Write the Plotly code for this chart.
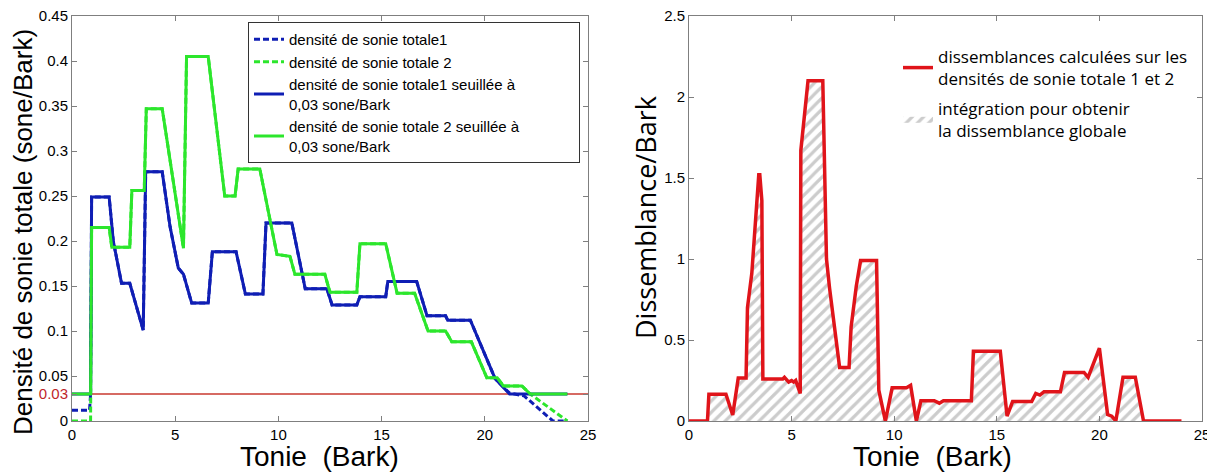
import plotly.graph_objects as go

# ---------------- data: left panel ----------------
threshold = 0.03

x_blue_seuil = [0, 0.9, 0.95, 1.8, 2.0, 2.4, 2.8, 3.45, 3.57, 4.37, 4.75, 5.15, 5.4, 5.8, 6.6, 6.8, 7.95,
                8.4, 9.25, 9.4, 10.65, 11.3, 12.35, 12.6, 13.8, 13.95, 15.2, 15.3, 16.7, 17.2, 18.1, 18.2,
                19.3, 20.5, 21.2, 24]
y_blue_seuil = [0.03, 0.03, 0.249, 0.249, 0.2, 0.153, 0.153, 0.101, 0.277, 0.277, 0.216, 0.17, 0.163, 0.131,
                0.131, 0.188, 0.188, 0.141, 0.141, 0.22, 0.22, 0.147, 0.147, 0.129, 0.129, 0.138, 0.138,
                0.155, 0.155, 0.117, 0.117, 0.112, 0.112, 0.047, 0.03, 0.03]

x_blue_raw = [0, 0.85, 0.9, 0.95, 1.8, 2.0, 2.4, 2.8, 3.45, 3.57, 4.37, 4.75, 5.15, 5.4, 5.8, 6.6, 6.8, 7.95,
              8.4, 9.25, 9.4, 10.65, 11.3, 12.35, 12.6, 13.8, 13.95, 15.2, 15.3, 16.7, 17.2, 18.1, 18.2,
              19.3, 20.5, 21.2, 21.9, 23.3, 24]
y_blue_raw = [0.012, 0.012, 0.03, 0.249, 0.249, 0.2, 0.153, 0.153, 0.101, 0.277, 0.277, 0.216, 0.17, 0.163,
              0.131, 0.131, 0.188, 0.188, 0.141, 0.141, 0.22, 0.22, 0.147, 0.147, 0.129, 0.129, 0.138, 0.138,
              0.155, 0.155, 0.117, 0.117, 0.112, 0.112, 0.047, 0.031, 0.028, 0.0, 0.0]

x_green_seuil = [0, 0.9, 0.95, 1.8, 1.93, 2.8, 2.9, 3.5, 3.6, 4.37, 5.4, 5.55, 6.6, 7.4, 7.9, 8.05, 9.1,
                 9.93, 10.56, 10.8, 12.25, 12.5, 13.8, 13.95, 15.2, 15.75, 16.6, 17.25, 18.1, 18.4, 19.35,
                 20.1, 20.6, 20.9, 21.8, 22.2, 24]
y_green_seuil = [0.03, 0.03, 0.215, 0.215, 0.193, 0.193, 0.256, 0.256, 0.347, 0.347, 0.192, 0.405, 0.405,
                 0.25, 0.25, 0.28, 0.28, 0.185, 0.183, 0.163, 0.163, 0.143, 0.143, 0.197, 0.197, 0.142,
                 0.142, 0.1, 0.1, 0.088, 0.088, 0.048, 0.048, 0.039, 0.039, 0.03, 0.03]

x_green_raw = [0, 0.9, 0.95, 1.8, 1.93, 2.8, 2.9, 3.5, 3.6, 4.37, 5.4, 5.55, 6.6, 7.4, 7.9, 8.05, 9.1,
               9.93, 10.56, 10.8, 12.25, 12.5, 13.8, 13.95, 15.2, 15.75, 16.6, 17.25, 18.1, 18.4, 19.35,
               20.1, 20.6, 20.9, 21.8, 22.2, 24]
y_green_raw = [0.0, 0.0, 0.215, 0.215, 0.193, 0.193, 0.256, 0.256, 0.347, 0.347, 0.192, 0.405, 0.405,
               0.25, 0.25, 0.28, 0.28, 0.185, 0.183, 0.163, 0.163, 0.143, 0.143, 0.197, 0.197, 0.142,
               0.142, 0.1, 0.1, 0.088, 0.088, 0.048, 0.048, 0.039, 0.039, 0.03, 0.0]

# ---------------- data: right panel ----------------
x_diss = [0, 0.9, 0.97, 1.8, 2.13, 2.4, 2.78, 2.85, 3.06, 3.4, 3.45, 3.55, 3.6, 4.57, 4.65, 4.86, 5.0, 5.1,
          5.2, 5.35, 5.42, 5.45, 5.8, 6.52, 6.7, 6.85, 7.34, 7.8, 7.9, 8.15, 8.36, 9.14, 9.25, 9.57, 9.9,
          10.6, 10.8, 11.08, 11.3, 11.95, 12.2, 12.4, 13.76, 13.86, 15.17, 15.5, 15.77, 16.7, 16.9, 17.1,
          17.3, 18.1, 18.3, 19.25, 19.45, 20.0, 20.4, 20.6, 20.8, 21.15, 21.75, 22.15, 24]
y_diss = [0, 0, 0.165, 0.165, 0.037, 0.265, 0.265, 0.7, 0.91, 1.52, 1.52, 1.36, 0.26, 0.26, 0.27, 0.24,
          0.25, 0.24, 0.25, 0.19, 0.17, 1.67, 2.1, 2.1, 1.0, 0.82, 0.33, 0.33, 0.58, 0.83, 0.99, 0.99, 0.19,
          0, 0.205, 0.205, 0.22, 0, 0.125, 0.125, 0.11, 0.125, 0.125, 0.43, 0.43, 0.03, 0.12, 0.12, 0.17,
          0.16, 0.18, 0.18, 0.3, 0.3, 0.27, 0.45, 0.04, 0.03, 0, 0.27, 0.27, 0, 0]

# tick labels
x_tickvals = [0, 5, 10, 15, 20, 25]
left_ytickvals = [0, 0.03, 0.05, 0.1, 0.15, 0.2, 0.25, 0.3, 0.35, 0.4, 0.45]
left_yticktext = ["0", "<span style='color:#c0262a'>0.03</span>", "0.05", "0.1", "0.15", "0.2", "0.25",
                  "0.3", "0.35", "0.4", "0.45"]
right_ytickvals = [0, 0.5, 1, 1.5, 2, 2.5]
right_yticktext = ["0", "0.5", "1", "1.5", "2", "2.5"]

BLUE = "#0f1eb4"
GREEN = "#2ce62c"
RED = "#e0141a"
ARIAL = "Liberation Sans, Arial, sans-serif"
NB = "\u00a0"

fig = go.Figure()

fig.add_trace(go.Scatter(x=x_blue_raw, y=y_blue_raw, mode="lines", name="densité de sonie totale1",
                         line=dict(color=BLUE, width=3, dash="6px,3px"), legend="legend"))
fig.add_trace(go.Scatter(x=x_green_raw, y=y_green_raw, mode="lines", name="densité de sonie totale 2",
                         line=dict(color=GREEN, width=3, dash="6px,3px"), legend="legend"))
fig.add_trace(go.Scatter(x=x_blue_seuil, y=y_blue_seuil, mode="lines",
                         name="densité de sonie totale1 seuillée à" + NB * 14 + "<br>0,03 sone/Bark",
                         line=dict(color=BLUE, width=3), legend="legend"))
fig.add_trace(go.Scatter(x=x_green_seuil, y=y_green_seuil, mode="lines",
                         name="densité de sonie totale 2 seuillée à<br>0,03 sone/Bark",
                         line=dict(color=GREEN, width=3), legend="legend"))

# right panel: hatch first, red line on top
fig.add_trace(go.Scatter(x=x_diss, y=y_diss, mode="none", xaxis="x2", yaxis="y2", fill="tozeroy",
                         fillpattern=dict(shape="/", fgcolor="#9a9a9a", bgcolor="white", size=8,
                                          solidity=0.4),
                         name="intégration pour obtenir<br>la dissemblance globale", legend="legend2",
                         legendgroup="b", legendrank=2))
fig.add_trace(go.Scatter(x=x_diss, y=y_diss, mode="lines", xaxis="x2", yaxis="y2",
                         name="dissemblances calculées sur les<br>densités de sonie totale 1 et 2",
                         line=dict(color=RED, width=3.5), legend="legend2", legendgroup="a",
                         legendrank=1))

# threshold line across the left panel
fig.add_shape(type="line", xref="x domain", yref="y", x0=0, x1=1, y0=threshold, y1=threshold,
              line=dict(color="#c8392f", width=1.5), layer="below")

axis_common = dict(showline=True, mirror="ticks", linecolor="#7f7f7f", linewidth=1, ticks="inside",
                   ticklen=5, tickcolor="#7f7f7f", showgrid=False, zeroline=False,
                   tickfont=dict(family=ARIAL, size=15, color="black"), automargin=False,
                   ticklabeloverflow="allow")

# the page body adds an 8px offset; figure coordinates below are screen minus 8
W, H = 1207, 465
ml, mr, mt, mb = 64, 13, 8, 52
pw = W - ml - mr
ph = H - mt - mb


def px(sx):
    return (sx - 8 - ml) / pw


def py(sy):
    return (H - mb - (sy - 8)) / ph


fig.update_layout(
    width=W, height=H, margin=dict(l=ml, r=mr, t=mt, b=mb),
    plot_bgcolor="white", paper_bgcolor="white",
    xaxis=dict(domain=[0, px(588)], range=[0, 25], tickvals=x_tickvals, **axis_common),
    yaxis=dict(range=[0, 0.45], tickvals=left_ytickvals, ticktext=left_yticktext, **axis_common),
    xaxis2=dict(domain=[px(689), 1], range=[0, 25], tickvals=x_tickvals, anchor="y2", **axis_common),
    yaxis2=dict(range=[0, 2.5], tickvals=right_ytickvals, ticktext=right_yticktext, anchor="x2",
                **axis_common),
    legend=dict(x=px(580), xanchor="right", y=py(22), yanchor="top",
                bordercolor="#333333", borderwidth=1, bgcolor="white", itemwidth=30,
                font=dict(family=ARIAL, size=15, color="black"), tracegroupgap=0),
    legend2=dict(x=px(898), xanchor="left", y=py(39), yanchor="top", itemwidth=30,
                 borderwidth=0, bgcolor="rgba(0,0,0,0)",
                 font=dict(family="Open Sans", size=17, color="black"), tracegroupgap=5),
    showlegend=True,
    annotations=[
        dict(text="Densité de sonie totale (sone/Bark)", textangle=-90, xref="paper", yref="paper",
             x=px(23), y=py(232), xanchor="center", yanchor="middle", showarrow=False,
             font=dict(family=ARIAL, size=26, color="black")),
        dict(text="Dissemblance/Bark", textangle=-90, xref="paper", yref="paper",
             x=px(645), y=py(218), xanchor="center", yanchor="middle", showarrow=False,
             font=dict(family="Open Sans", size=27, color="black")),
        dict(text="Tonie" + NB + " (Bark)", xref="paper", yref="paper",
             x=px(319), y=py(457), xanchor="center", yanchor="middle", showarrow=False,
             font=dict(family=ARIAL, size=28, color="black")),
        dict(text="Tonie" + NB + " (Bark)", xref="paper", yref="paper",
             x=px(932), y=py(457), xanchor="center", yanchor="middle", showarrow=False,
             font=dict(family=ARIAL, size=28, color="black")),
    ],
)

fig.write_html("out.html")
